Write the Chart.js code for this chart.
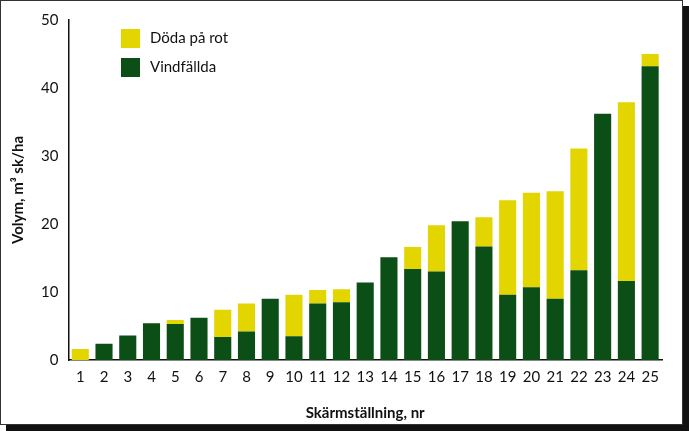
<!DOCTYPE html>
<html><head><meta charset="utf-8">
<script src="https://cdn.jsdelivr.net/npm/chart.js@4/dist/chart.umd.min.js"></script>
<style>
html,body{margin:0;padding:0;background:#fff;}
#wrap{position:absolute;left:0;top:0;width:681px;height:423px;background:#fff;border:1px solid #333;box-shadow:6px 6px 0 #111;}
</style></head><body>
<div id="wrap"><canvas id="c" width="681" height="423"></canvas></div>
<script>
const categories=["1","2","3","4","5","6","7","8","9","10","11","12","13","14","15","16","17","18","19","20","21","22","23","24","25"];
const vindfallda=[0,2.4,3.6,5.4,5.3,6.2,3.4,4.2,9.0,3.5,8.3,8.5,11.4,15.1,13.4,13.0,20.4,16.7,9.6,10.7,9.0,13.2,36.2,11.6,43.2];
const totals=[1.6,2.4,3.6,5.4,5.9,6.2,7.4,8.3,9.0,9.6,10.3,10.4,11.4,15.1,16.6,19.8,20.4,21.0,23.5,24.6,24.8,31.1,36.2,37.9,45.0];
const dodaPaRot=totals.map((t,i)=>+(t-vindfallda[i]).toFixed(1));
const yTicks=[0,10,20,30,40,50];
const GREEN='#0b4f16',YELLOW='#e2d500';
const legendPlugin={id:'lg',afterDraw(ch){const c=ch.ctx;const items=[[ch.data.datasets[1].label,YELLOW],[ch.data.datasets[0].label,GREEN]];
c.save();c.font='15px Lato';c.textBaseline='middle';
items.forEach((it,i)=>{const y=37+i*29;c.fillStyle=it[1];c.fillRect(120,y-9,19,19);c.fillStyle='#111';c.fillText(it[0],149,y);});c.restore();}};
new Chart(document.getElementById('c'),{type:'bar',
data:{labels:categories,datasets:[
{label:'Vindfällda',data:vindfallda,backgroundColor:GREEN,stack:'s'},
{label:'Döda på rot',data:dodaPaRot,backgroundColor:YELLOW,stack:'s'}]},
options:{responsive:false,animation:false,
layout:{padding:{left:4,right:20,top:2,bottom:2}},
plugins:{legend:{display:false},tooltip:{enabled:false}},
scales:{
x:{stacked:true,categoryPercentage:1,barPercentage:0.52,grid:{display:false,drawTicks:false},border:{color:'#111',width:1.5},
ticks:{color:'#111',font:{family:'Lato',size:15},padding:8},
title:{display:true,text:'Skärmställning, nr',color:'#111',font:{family:'Lato',size:15,weight:'bold'},padding:{top:10,bottom:0}}},
y:{stacked:true,min:0,max:50,afterBuildTicks(a){a.ticks=yTicks.map(v=>({value:v}));},grid:{display:false,drawTicks:false},border:{color:'#111',width:1.5},
ticks:{color:'#111',font:{family:'Lato',size:15},padding:10},
title:{display:true,text:'Volym, m³ sk/ha',color:'#111',font:{family:'Lato',size:15,weight:'bold'}}}}},
plugins:[legendPlugin]});
</script></body></html>
